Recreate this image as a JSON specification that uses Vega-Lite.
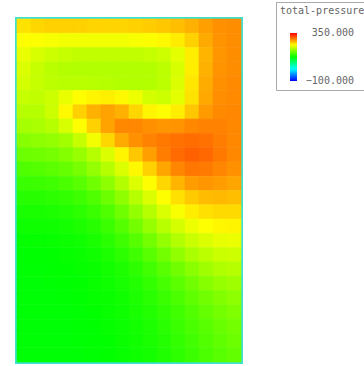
{
  "$schema": "https://vega.github.io/schema/vega-lite/v6.json",
  "width": 224,
  "height": 343,
  "autosize": {"type": "none"},
  "padding": {"left": 17, "top": 19, "right": 123, "bottom": 4},
  "background": "white",
  "config": {"view": {"stroke": "#40e0d0", "strokeWidth": 4}},
  "datasets": {
    "grid": [
      {"c":0,"r":0,"v":250},{"c":1,"r":0,"v":255},{"c":2,"r":0,"v":258},{"c":3,"r":0,"v":258},{"c":4,"r":0,"v":258},{"c":5,"r":0,"v":256},{"c":6,"r":0,"v":256},{"c":7,"r":0,"v":256},{"c":8,"r":0,"v":258},{"c":9,"r":0,"v":260},{"c":10,"r":0,"v":262},{"c":11,"r":0,"v":266},{"c":12,"r":0,"v":272},{"c":13,"r":0,"v":280},{"c":14,"r":0,"v":286},{"c":15,"r":0,"v":288},
      {"c":0,"r":1,"v":238},{"c":1,"r":1,"v":236},{"c":2,"r":1,"v":234},{"c":3,"r":1,"v":232},{"c":4,"r":1,"v":232},{"c":5,"r":1,"v":232},{"c":6,"r":1,"v":232},{"c":7,"r":1,"v":232},{"c":8,"r":1,"v":234},{"c":9,"r":1,"v":236},{"c":10,"r":1,"v":240},{"c":11,"r":1,"v":246},{"c":12,"r":1,"v":258},{"c":13,"r":1,"v":275},{"c":14,"r":1,"v":285},{"c":15,"r":1,"v":288},
      {"c":0,"r":2,"v":228},{"c":1,"r":2,"v":220},{"c":2,"r":2,"v":215},{"c":3,"r":2,"v":212},{"c":4,"r":2,"v":210},{"c":5,"r":2,"v":210},{"c":6,"r":2,"v":210},{"c":7,"r":2,"v":210},{"c":8,"r":2,"v":210},{"c":9,"r":2,"v":212},{"c":10,"r":2,"v":216},{"c":11,"r":2,"v":225},{"c":12,"r":2,"v":245},{"c":13,"r":2,"v":270},{"c":14,"r":2,"v":284},{"c":15,"r":2,"v":288},
      {"c":0,"r":3,"v":222},{"c":1,"r":3,"v":212},{"c":2,"r":3,"v":207},{"c":3,"r":3,"v":204},{"c":4,"r":3,"v":203},{"c":5,"r":3,"v":203},{"c":6,"r":3,"v":203},{"c":7,"r":3,"v":203},{"c":8,"r":3,"v":203},{"c":9,"r":3,"v":204},{"c":10,"r":3,"v":208},{"c":11,"r":3,"v":220},{"c":12,"r":3,"v":245},{"c":13,"r":3,"v":272},{"c":14,"r":3,"v":285},{"c":15,"r":3,"v":288},
      {"c":0,"r":4,"v":218},{"c":1,"r":4,"v":212},{"c":2,"r":4,"v":208},{"c":3,"r":4,"v":207},{"c":4,"r":4,"v":207},{"c":5,"r":4,"v":206},{"c":6,"r":4,"v":205},{"c":7,"r":4,"v":204},{"c":8,"r":4,"v":203},{"c":9,"r":4,"v":204},{"c":10,"r":4,"v":208},{"c":11,"r":4,"v":222},{"c":12,"r":4,"v":248},{"c":13,"r":4,"v":274},{"c":14,"r":4,"v":286},{"c":15,"r":4,"v":289},
      {"c":0,"r":5,"v":212},{"c":1,"r":5,"v":210},{"c":2,"r":5,"v":215},{"c":3,"r":5,"v":228},{"c":4,"r":5,"v":238},{"c":5,"r":5,"v":242},{"c":6,"r":5,"v":244},{"c":7,"r":5,"v":240},{"c":8,"r":5,"v":230},{"c":9,"r":5,"v":218},{"c":10,"r":5,"v":215},{"c":11,"r":5,"v":225},{"c":12,"r":5,"v":250},{"c":13,"r":5,"v":276},{"c":14,"r":5,"v":287},{"c":15,"r":5,"v":289},
      {"c":0,"r":6,"v":205},{"c":1,"r":6,"v":205},{"c":2,"r":6,"v":215},{"c":3,"r":6,"v":240},{"c":4,"r":6,"v":258},{"c":5,"r":6,"v":272},{"c":6,"r":6,"v":278},{"c":7,"r":6,"v":272},{"c":8,"r":6,"v":255},{"c":9,"r":6,"v":242},{"c":10,"r":6,"v":238},{"c":11,"r":6,"v":245},{"c":12,"r":6,"v":262},{"c":13,"r":6,"v":282},{"c":14,"r":6,"v":289},{"c":15,"r":6,"v":290},
      {"c":0,"r":7,"v":198},{"c":1,"r":7,"v":200},{"c":2,"r":7,"v":205},{"c":3,"r":7,"v":220},{"c":4,"r":7,"v":238},{"c":5,"r":7,"v":258},{"c":6,"r":7,"v":278},{"c":7,"r":7,"v":290},{"c":8,"r":7,"v":290},{"c":9,"r":7,"v":286},{"c":10,"r":7,"v":284},{"c":11,"r":7,"v":285},{"c":12,"r":7,"v":290},{"c":13,"r":7,"v":292},{"c":14,"r":7,"v":292},{"c":15,"r":7,"v":290},
      {"c":0,"r":8,"v":185},{"c":1,"r":8,"v":187},{"c":2,"r":8,"v":190},{"c":3,"r":8,"v":196},{"c":4,"r":8,"v":212},{"c":5,"r":8,"v":232},{"c":6,"r":8,"v":255},{"c":7,"r":8,"v":275},{"c":8,"r":8,"v":286},{"c":9,"r":8,"v":292},{"c":10,"r":8,"v":297},{"c":11,"r":8,"v":300},{"c":12,"r":8,"v":302},{"c":13,"r":8,"v":300},{"c":14,"r":8,"v":295},{"c":15,"r":8,"v":290},
      {"c":0,"r":9,"v":172},{"c":1,"r":9,"v":174},{"c":2,"r":9,"v":177},{"c":3,"r":9,"v":183},{"c":4,"r":9,"v":192},{"c":5,"r":9,"v":205},{"c":6,"r":9,"v":222},{"c":7,"r":9,"v":242},{"c":8,"r":9,"v":262},{"c":9,"r":9,"v":280},{"c":10,"r":9,"v":295},{"c":11,"r":9,"v":303},{"c":12,"r":9,"v":307},{"c":13,"r":9,"v":304},{"c":14,"r":9,"v":297},{"c":15,"r":9,"v":290},
      {"c":0,"r":10,"v":160},{"c":1,"r":10,"v":162},{"c":2,"r":10,"v":165},{"c":3,"r":10,"v":170},{"c":4,"r":10,"v":178},{"c":5,"r":10,"v":190},{"c":6,"r":10,"v":205},{"c":7,"r":10,"v":222},{"c":8,"r":10,"v":240},{"c":9,"r":10,"v":258},{"c":10,"r":10,"v":277},{"c":11,"r":10,"v":291},{"c":12,"r":10,"v":298},{"c":13,"r":10,"v":296},{"c":14,"r":10,"v":291},{"c":15,"r":10,"v":286},
      {"c":0,"r":11,"v":150},{"c":1,"r":11,"v":151},{"c":2,"r":11,"v":153},{"c":3,"r":11,"v":157},{"c":4,"r":11,"v":164},{"c":5,"r":11,"v":174},{"c":6,"r":11,"v":187},{"c":7,"r":11,"v":204},{"c":8,"r":11,"v":222},{"c":9,"r":11,"v":238},{"c":10,"r":11,"v":255},{"c":11,"r":11,"v":270},{"c":12,"r":11,"v":281},{"c":13,"r":11,"v":284},{"c":14,"r":11,"v":281},{"c":15,"r":11,"v":277},
      {"c":0,"r":12,"v":142},{"c":1,"r":12,"v":142},{"c":2,"r":12,"v":144},{"c":3,"r":12,"v":147},{"c":4,"r":12,"v":152},{"c":5,"r":12,"v":160},{"c":6,"r":12,"v":172},{"c":7,"r":12,"v":188},{"c":8,"r":12,"v":205},{"c":9,"r":12,"v":222},{"c":10,"r":12,"v":238},{"c":11,"r":12,"v":251},{"c":12,"r":12,"v":261},{"c":13,"r":12,"v":267},{"c":14,"r":12,"v":268},{"c":15,"r":12,"v":266},
      {"c":0,"r":13,"v":136},{"c":1,"r":13,"v":136},{"c":2,"r":13,"v":137},{"c":3,"r":13,"v":140},{"c":4,"r":13,"v":144},{"c":5,"r":13,"v":150},{"c":6,"r":13,"v":160},{"c":7,"r":13,"v":174},{"c":8,"r":13,"v":190},{"c":9,"r":13,"v":205},{"c":10,"r":13,"v":221},{"c":11,"r":13,"v":235},{"c":12,"r":13,"v":245},{"c":13,"r":13,"v":251},{"c":14,"r":13,"v":254},{"c":15,"r":13,"v":254},
      {"c":0,"r":14,"v":131},{"c":1,"r":14,"v":131},{"c":2,"r":14,"v":132},{"c":3,"r":14,"v":134},{"c":4,"r":14,"v":137},{"c":5,"r":14,"v":142},{"c":6,"r":14,"v":150},{"c":7,"r":14,"v":162},{"c":8,"r":14,"v":176},{"c":9,"r":14,"v":191},{"c":10,"r":14,"v":206},{"c":11,"r":14,"v":219},{"c":12,"r":14,"v":230},{"c":13,"r":14,"v":237},{"c":14,"r":14,"v":241},{"c":15,"r":14,"v":242},
      {"c":0,"r":15,"v":127},{"c":1,"r":15,"v":127},{"c":2,"r":15,"v":128},{"c":3,"r":15,"v":130},{"c":4,"r":15,"v":132},{"c":5,"r":15,"v":136},{"c":6,"r":15,"v":143},{"c":7,"r":15,"v":152},{"c":8,"r":15,"v":163},{"c":9,"r":15,"v":176},{"c":10,"r":15,"v":190},{"c":11,"r":15,"v":203},{"c":12,"r":15,"v":214},{"c":13,"r":15,"v":222},{"c":14,"r":15,"v":227},{"c":15,"r":15,"v":229},
      {"c":0,"r":16,"v":125},{"c":1,"r":16,"v":125},{"c":2,"r":16,"v":126},{"c":3,"r":16,"v":127},{"c":4,"r":16,"v":129},{"c":5,"r":16,"v":132},{"c":6,"r":16,"v":137},{"c":7,"r":16,"v":144},{"c":8,"r":16,"v":153},{"c":9,"r":16,"v":164},{"c":10,"r":16,"v":176},{"c":11,"r":16,"v":189},{"c":12,"r":16,"v":200},{"c":13,"r":16,"v":208},{"c":14,"r":16,"v":214},{"c":15,"r":16,"v":216},
      {"c":0,"r":17,"v":124},{"c":1,"r":17,"v":124},{"c":2,"r":17,"v":125},{"c":3,"r":17,"v":126},{"c":4,"r":17,"v":127},{"c":5,"r":17,"v":129},{"c":6,"r":17,"v":133},{"c":7,"r":17,"v":138},{"c":8,"r":17,"v":145},{"c":9,"r":17,"v":154},{"c":10,"r":17,"v":164},{"c":11,"r":17,"v":175},{"c":12,"r":17,"v":186},{"c":13,"r":17,"v":195},{"c":14,"r":17,"v":202},{"c":15,"r":17,"v":205},
      {"c":0,"r":18,"v":123},{"c":1,"r":18,"v":123},{"c":2,"r":18,"v":124},{"c":3,"r":18,"v":125},{"c":4,"r":18,"v":126},{"c":5,"r":18,"v":128},{"c":6,"r":18,"v":131},{"c":7,"r":18,"v":135},{"c":8,"r":18,"v":140},{"c":9,"r":18,"v":147},{"c":10,"r":18,"v":156},{"c":11,"r":18,"v":165},{"c":12,"r":18,"v":175},{"c":13,"r":18,"v":184},{"c":14,"r":18,"v":191},{"c":15,"r":18,"v":195},
      {"c":0,"r":19,"v":123},{"c":1,"r":19,"v":123},{"c":2,"r":19,"v":123},{"c":3,"r":19,"v":124},{"c":4,"r":19,"v":125},{"c":5,"r":19,"v":127},{"c":6,"r":19,"v":129},{"c":7,"r":19,"v":132},{"c":8,"r":19,"v":137},{"c":9,"r":19,"v":143},{"c":10,"r":19,"v":150},{"c":11,"r":19,"v":158},{"c":12,"r":19,"v":167},{"c":13,"r":19,"v":175},{"c":14,"r":19,"v":182},{"c":15,"r":19,"v":187},
      {"c":0,"r":20,"v":123},{"c":1,"r":20,"v":123},{"c":2,"r":20,"v":123},{"c":3,"r":20,"v":123},{"c":4,"r":20,"v":124},{"c":5,"r":20,"v":126},{"c":6,"r":20,"v":128},{"c":7,"r":20,"v":131},{"c":8,"r":20,"v":135},{"c":9,"r":20,"v":140},{"c":10,"r":20,"v":146},{"c":11,"r":20,"v":153},{"c":12,"r":20,"v":161},{"c":13,"r":20,"v":169},{"c":14,"r":20,"v":176},{"c":15,"r":20,"v":181},
      {"c":0,"r":21,"v":123},{"c":1,"r":21,"v":123},{"c":2,"r":21,"v":123},{"c":3,"r":21,"v":123},{"c":4,"r":21,"v":124},{"c":5,"r":21,"v":125},{"c":6,"r":21,"v":127},{"c":7,"r":21,"v":130},{"c":8,"r":21,"v":133},{"c":9,"r":21,"v":137},{"c":10,"r":21,"v":143},{"c":11,"r":21,"v":150},{"c":12,"r":21,"v":157},{"c":13,"r":21,"v":164},{"c":14,"r":21,"v":171},{"c":15,"r":21,"v":176},
      {"c":0,"r":22,"v":123},{"c":1,"r":22,"v":123},{"c":2,"r":22,"v":123},{"c":3,"r":22,"v":123},{"c":4,"r":22,"v":124},{"c":5,"r":22,"v":125},{"c":6,"r":22,"v":126},{"c":7,"r":22,"v":129},{"c":8,"r":22,"v":132},{"c":9,"r":22,"v":136},{"c":10,"r":22,"v":141},{"c":11,"r":22,"v":147},{"c":12,"r":22,"v":154},{"c":13,"r":22,"v":161},{"c":14,"r":22,"v":167},{"c":15,"r":22,"v":172},
      {"c":0,"r":23,"v":123},{"c":1,"r":23,"v":123},{"c":2,"r":23,"v":123},{"c":3,"r":23,"v":123},{"c":4,"r":23,"v":123},{"c":5,"r":23,"v":124},{"c":6,"r":23,"v":126},{"c":7,"r":23,"v":128},{"c":8,"r":23,"v":131},{"c":9,"r":23,"v":134},{"c":10,"r":23,"v":139},{"c":11,"r":23,"v":145},{"c":12,"r":23,"v":151},{"c":13,"r":23,"v":158},{"c":14,"r":23,"v":164},{"c":15,"r":23,"v":168}
    ]
  },
  "data": {"name": "grid"},
  "mark": {"type": "rect", "strokeWidth": 0.6, "stroke": {"expr": "scale('color', datum.v)"}},
  "encoding": {
    "x": {"field": "c", "type": "ordinal", "axis": null},
    "y": {"field": "r", "type": "ordinal", "axis": null},
    "color": {
      "field": "v",
      "type": "quantitative",
      "title": "total-pressure",
      "scale": {
        "domain": [-100, 350],
        "range": ["#0000ff", "#00ffff", "#00ff00", "#ffff00", "#ff0000"],
        "interpolate": "rgb"
      },
      "legend": {
        "orient": "none",
        "legendX": 259,
        "legendY": -17,
        "direction": "vertical",
        "values": [-100, 350],
        "format": ".3f",
        "strokeColor": "#aaaaaa",
        "padding": 4,
        "titleFont": "DejaVu Sans Mono",
        "titleFontSize": 10,
        "titleFontWeight": "normal",
        "titleColor": "#666666",
        "titlePadding": 17,
        "gradientLength": 48,
        "gradientThickness": 7,
        "gradientStrokeWidth": 0,
        "labelFont": "DejaVu Sans Mono",
        "labelFontSize": 10,
        "labelColor": "#666666",
        "labelOffset": 67,
        "encode": {
          "gradient": {"update": {"x": {"value": 10}}},
          "labels": {"update": {"align": {"value": "right"}, "baseline": {"value": "middle"}}}
        }
      }
    }
  }
}
